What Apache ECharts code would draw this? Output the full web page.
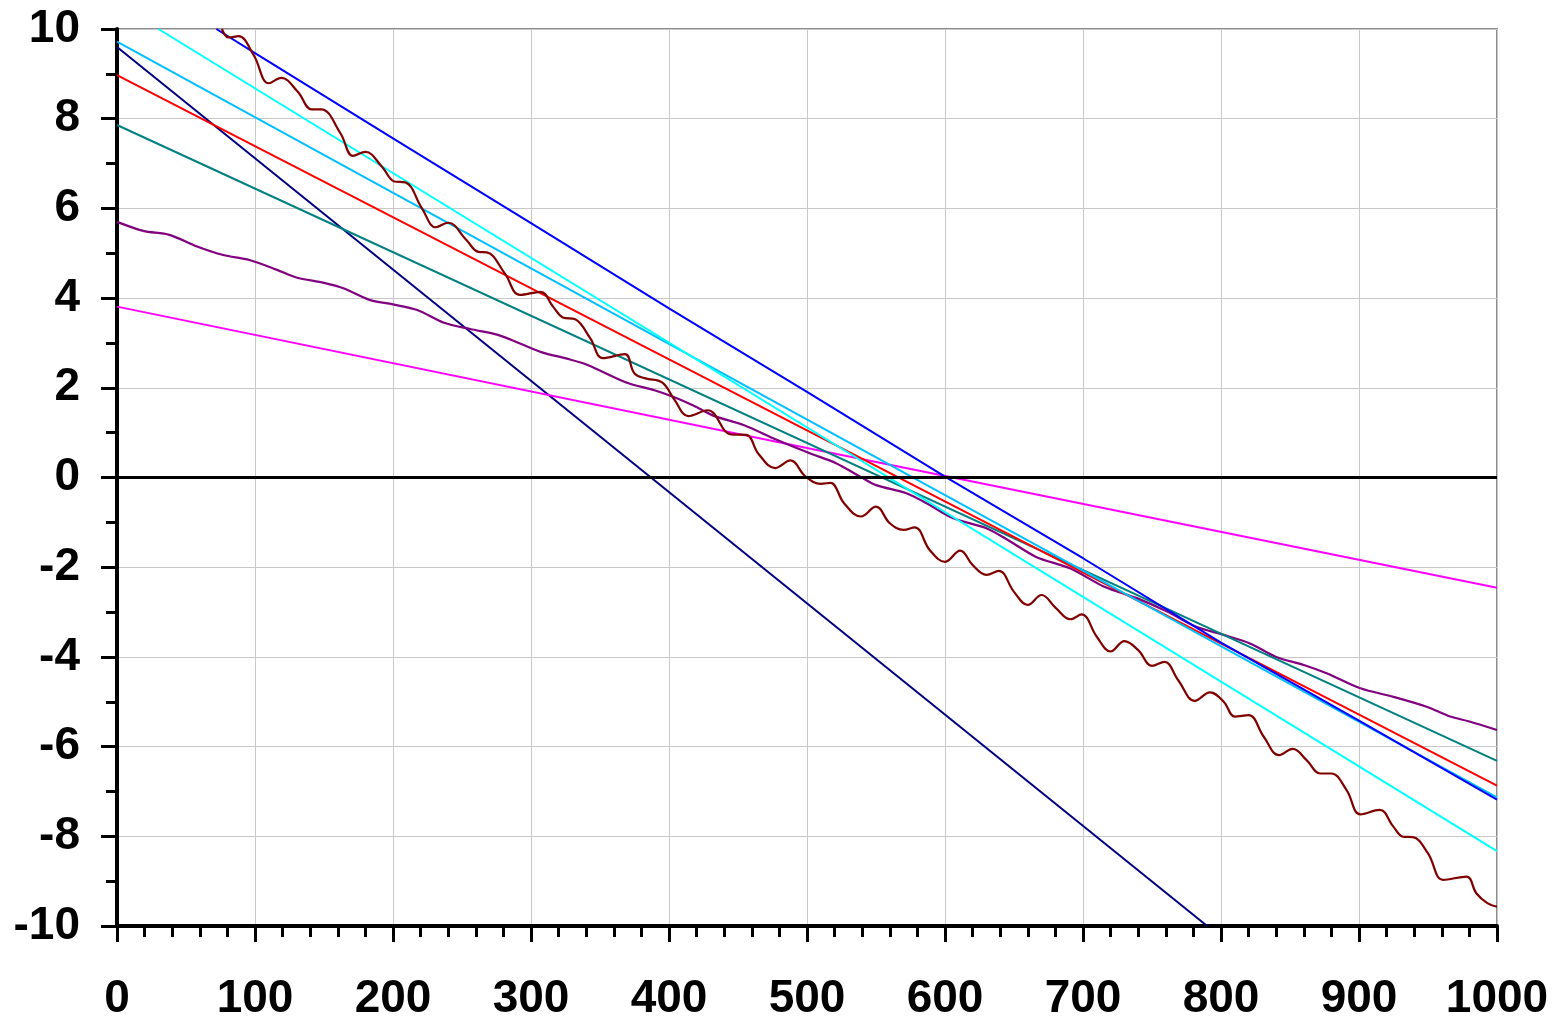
<!DOCTYPE html>
<html>
<head>
<meta charset="utf-8">
<script src="https://cdn.jsdelivr.net/npm/echarts@6/dist/echarts.min.js"></script>
<style>
  html, body { margin: 0; padding: 0; background: #fff; }
  #chart { width: 1558px; height: 1019px; }
</style>
</head>
<body>
<div id="chart"></div>
<script>
// axis ranges
const xRange = [0, 1000, 100];
const yRange = [-10, 10, 2];

// straight-ish lines, [x, y]
const navyLine = [[0, 9.6], [790, -10]];
const blueLine = [[72, 10], [100, 9.46], [200, 7.56], [300, 5.67], [400, 3.77], [500, 1.91],
  [600, 0.02], [700, -1.80], [800, -3.68], [900, -5.42], [1000, -7.18]];
const skyLine = [[0, 9.72], [1000, -7.13]];
const cyanLine = [[30, 10], [1000, -8.33]];
const redLine = [[0, 8.97], [1000, -6.87]];
const tealLine = [[0, 7.86], [1000, -6.32]];
const magentaLine = [[0, 3.81], [500, 0.66], [1000, -2.46]];

// wavy purple line
const purpleLine = [[0, 5.70], [19, 5.50], [38, 5.41], [58, 5.15], [77, 4.96], [96, 4.85], [116, 4.63],
  [130, 4.46], [150, 4.34], [164, 4.22], [183, 3.96], [200, 3.86], [218, 3.73], [237, 3.45],
  [256, 3.31], [276, 3.18], [292, 2.99], [308, 2.79], [326, 2.65], [341, 2.51], [369, 2.12],
  [390, 1.94], [403, 1.80], [418, 1.60], [432, 1.38], [454, 1.17], [478, 0.84], [502, 0.54],
  [521, 0.32], [538, 0.03], [550, -0.17], [572, -0.35], [587, -0.58], [606, -0.91], [630, -1.13],
  [647, -1.42], [666, -1.77], [691, -2.03], [715, -2.43], [739, -2.69], [761, -2.99], [782, -3.33],
  [802, -3.51], [821, -3.70], [840, -4.00], [860, -4.18], [877, -4.37], [901, -4.70], [925, -4.89],
  [949, -5.11], [966, -5.33], [980, -5.44], [1000, -5.63]];

// wavy dark red line
const maroonLine = [[76, 10.0], [81, 9.81], [88, 9.84], [99, 9.42], [110, 8.79], [119, 8.91], [131, 8.60],
  [141, 8.21], [148, 8.21], [162, 7.67], [171, 7.17], [180, 7.26], [192, 6.93], [201, 6.60],
  [209, 6.58], [221, 6.00], [231, 5.58], [240, 5.68], [253, 5.30], [262, 5.03], [268, 5.02],
  [281, 4.55], [292, 4.07], [307, 4.14], [316, 3.81], [323, 3.57], [332, 3.53], [343, 3.10],
  [352, 2.66], [368, 2.75], [375, 2.32], [383, 2.21], [395, 2.12], [404, 1.73], [414, 1.37],
  [428, 1.50], [445, 0.96], [456, 0.95], [465, 0.52], [477, 0.21], [488, 0.38], [499, 0.02],
  [510, -0.14], [517, -0.12], [527, -0.58], [539, -0.87], [550, -0.65], [560, -1.02], [570, -1.17],
  [578, -1.11], [589, -1.62], [600, -1.88], [611, -1.63], [620, -1.95], [630, -2.17], [639, -2.08],
  [650, -2.55], [660, -2.84], [670, -2.62], [680, -2.90], [691, -3.16], [699, -3.05], [710, -3.55],
  [720, -3.88], [730, -3.65], [740, -3.85], [750, -4.20], [759, -4.11], [769, -4.52], [781, -4.98],
  [792, -4.79], [802, -5.00], [810, -5.33], [820, -5.30], [831, -5.78], [842, -6.19], [852, -6.05],
  [862, -6.30], [872, -6.60], [880, -6.60], [891, -6.97], [901, -7.51], [915, -7.41], [925, -7.79],
  [932, -8.01], [939, -8.02], [950, -8.38], [961, -8.97], [978, -8.90], [985, -9.27], [993, -9.49],
  [1000, -9.57]];

const font = 'Liberation Sans, Arial, sans-serif';

function lineSeries(data, color, width, smooth) {
  return {
    type: 'line',
    data: data,
    showSymbol: false,
    symbol: 'none',
    smooth: smooth || false,
    clip: true,
    lineStyle: { color: color, width: width || 2 },
    itemStyle: { color: color },
    z: 3
  };
}

const chart = echarts.init(document.getElementById('chart'));
const navy = lineSeries(navyLine, '#000080');
// black line at y = 0
navy.markLine = {
  silent: true,
  symbol: ['none', 'none'],
  animation: false,
  label: { show: false },
  lineStyle: { color: '#000', width: 3, type: 'solid' },
  data: [{ yAxis: 0 }]
};

chart.setOption({
  animation: false,
  backgroundColor: '#fff',
  grid: {
    left: 117, right: 61, top: 29, bottom: 93,
    containLabel: false,
    outerBoundsMode: 'none',
    show: true,
    borderColor: '#8c8c8c',
    borderWidth: 2
  },
  xAxis: {
    type: 'value',
    min: xRange[0], max: xRange[1], interval: xRange[2],
    axisLine: { show: true, onZero: false, lineStyle: { color: '#000', width: 4 } },
    axisTick: { show: true, inside: false, length: 16, lineStyle: { color: '#000', width: 3 } },
    minorTick: { show: true, splitNumber: 5, length: 11, lineStyle: { color: '#000', width: 3 } },
    axisLabel: {
      color: '#000', fontFamily: font, fontWeight: 'bold', fontSize: 46, margin: 50,
      formatter: v => String(v)
    },
    splitLine: { show: true, lineStyle: { color: '#c8c8c8', width: 1 } },
    minorSplitLine: { show: false }
  },
  yAxis: {
    type: 'value',
    min: yRange[0], max: yRange[1], interval: yRange[2],
    axisLine: { show: true, onZero: false, lineStyle: { color: '#000', width: 4 } },
    axisTick: { show: true, inside: false, length: 16, lineStyle: { color: '#000', width: 3 } },
    minorTick: { show: true, splitNumber: 2, length: 11, lineStyle: { color: '#000', width: 3 } },
    axisLabel: {
      color: '#000', fontFamily: font, fontWeight: 'bold', fontSize: 46, margin: 37,
      formatter: v => String(v)
    },
    splitLine: { show: true, lineStyle: { color: '#c8c8c8', width: 1 } },
    minorSplitLine: { show: false }
  },
  series: [
    navy,
    lineSeries(magentaLine, '#ff00ff'),
    lineSeries(purpleLine, '#800080', 2.2, 0.3),
    lineSeries(tealLine, '#008080'),
    lineSeries(redLine, '#ff0000'),
    lineSeries(skyLine, '#00bfff'),
    lineSeries(cyanLine, '#00ffff'),
    lineSeries(blueLine, '#0000ff'),
    lineSeries(maroonLine, '#800000', 2.2, 0.4)
  ]
});
</script>
</body>
</html>
